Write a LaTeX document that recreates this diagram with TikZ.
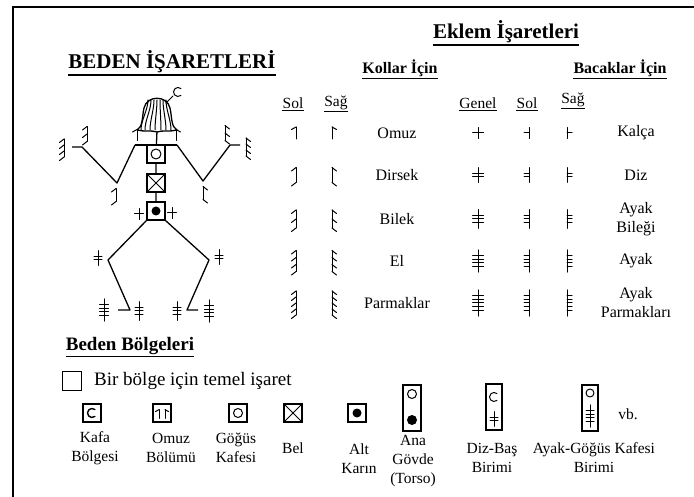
\documentclass[tikz,border=0pt]{standalone}
\usepackage{fontspec}
\setmainfont{Liberation Serif}
\usepackage{tikz}

\tikzset{
  sign/.style={line width=1pt, line cap=round, line join=round},
  limb/.style={line width=1.3pt, line join=round},
  region/.style={draw, line width=1.1pt, minimum size=18pt, inner sep=0pt},
  ul/.style={inner xsep=0pt, inner ysep=1.5pt,
    append after command={(\tikzlastnode.south west) edge[line width=#1] (\tikzlastnode.south east)}},
  ul/.default=0.9pt,
  lbl/.style={font=\fontsize{15.5}{19}\selectfont, align=center, inner sep=0pt}
}

% arm sign: ticks on one side of a stroke (#3=-1 left, 1 right), #4 ticks, #5 height
\newcommand\armsign[5][]{%
  \begin{scope}[shift={#2},#1]
    \draw[sign] (0,-#5/2) -- (0,#5/2);
    \ifnum#4=1
      \draw[sign] (0,-#5/2) -- (#3*4.5,-#5/2+2.5);
    \else
      \foreach \k in {1,...,#4}
        \draw[sign] (0,{-#5/2+(\k-1)*#5/(#4-1)}) -- (#3*4.5,{-#5/2+(\k-1)*#5/(#4-1)+3.5});
    \fi
  \end{scope}}
% leg sign: bars from #3 to #4 across a stroke, #5 bars
\newcommand\legsign[5][]{%
  \begin{scope}[shift={#2},#1]
    \draw[sign] (0,{-(#5-1)*1.9-5.5}) -- (0,{(#5-1)*1.9+5.5});
    \foreach \k in {1,...,#5}
      \draw[sign] (#3,{-(#5-1)*1.9+(\k-1)*3.8}) -- (#4,{-(#5-1)*1.9+(\k-1)*3.8});
  \end{scope}}
% head sign
\newcommand\Csign[3][]{%
  \begin{scope}[shift={#2}]
    \draw[sign,#1] (50:#3) arc (50:310:#3);
  \end{scope}}

\begin{document}
\begin{tikzpicture}[x=1pt,y=-1pt]
\useasboundingbox (0,0) rectangle (694,497);
\draw[line width=2.6pt] (13,497) -- (13,7) -- (694,7);

\node[ul=1.5pt, font=\bfseries\fontsize{21}{24}\selectfont] (beden) at (172,62) {BEDEN İŞARETLERİ};
\node[ul=1.5pt, font=\bfseries\fontsize{21}{24}\selectfont] (eklem) at (506,32) {Eklem İşaretleri};
\node[ul=1.2pt, font=\bfseries\fontsize{16}{19}\selectfont] (kollar) at (400,68) {Kollar İçin};
\node[ul=1.2pt, font=\bfseries\fontsize{16}{19}\selectfont] (bacak) at (620,68) {Bacaklar İçin};

% column heads
\node[lbl, ul] (hsol) at (293,103) {Sol};
\node[lbl, ul] (hsag) at (336,103) {Sağ};
\node[lbl, ul] (hgenel) at (478,103) {Genel};
\node[lbl, ul] (hlsol) at (527,103) {Sol};
\node[lbl, ul] (hlsag) at (573,100) {Sağ};

% joint table
\foreach \yy/\nn/\hh/\txt/\leg in {133/1/12/Omuz/Kalça, 175/2/15/Dirsek/Diz,
    219/3/18/Bilek/{Ayak\\Bileği}, 261/4/21/El/Ayak, 303/5/24/Parmaklar/{Ayak\\Parmakları}}{
  \armsign{(296,\yy)}{-1}{\nn}{\hh}
  \armsign{(332,\yy)}{1}{\nn}{\hh}
  \node[lbl, font=\fontsize{16}{19}\selectfont] (arm\nn) at (397,\yy) {\txt};
  \legsign{(478,\yy)}{-5.5}{5.5}{\nn}
  \legsign{(529,\yy)}{-5}{0}{\nn}
  \legsign{(567,\yy)}{0}{5}{\nn}
  \node[lbl, font=\fontsize{16}{19}\selectfont] (leg\nn) at (636,\yy) {\leg};
}

% figure
\coordinate (neck) at (157,131);
\node[region] (chest) at (156,154) {};
\node[region] (waist) at (156,183) {};
\node[region] (pelvis) at (156,211) {};
\draw[sign] (chest) circle (5);
\draw[sign] (waist.north west) -- (waist.south east) (waist.north east) -- (waist.south west);
\fill (pelvis) circle (4.5);
\draw[limb] (neck) -- (chest) (chest) -- (waist) (waist) -- (pelvis);

\coordinate (lsh) at (135,145); \coordinate (lel) at (117,183);
\coordinate (lwr) at (82,147);  \coordinate (lhd) at (72,147);
\coordinate (rsh) at (177,145); \coordinate (rel) at (203,181);
\coordinate (rwr) at (230,145); \coordinate (rhd) at (240,145);
\coordinate (lkn) at (108,260); \coordinate (lft) at (130,310); \coordinate (lto) at (118,310);
\coordinate (rkn) at (209,260); \coordinate (rft) at (187,310); \coordinate (rto) at (198,310);
\draw[limb] (lsh) -- (rsh);
\draw[limb] (lsh) -- (lel) -- (lwr) -- (lhd);
\draw[limb] (rsh) -- (rel) -- (rwr) -- (rhd);
\draw[limb] (pelvis.south west) -- (lkn) -- (lft) -- (lto);
\draw[limb] (pelvis.south east) -- (rkn) -- (rft) -- (rto);

% head
\draw[limb, fill=white] (137,130) .. controls (143,127) and (142,117) .. (144,108)
  .. controls (147,95) and (167,95) .. (170,108) .. controls (172,117) and (171,127) .. (177,130)
  .. controls (170,132) and (163,130) .. (157,132) .. controls (151,130) and (144,132) .. (137,130);
\foreach \sx/\bx in {148/141, 151/145, 154/150, 157/155, 160/161, 163/166, 166/171}
  \draw[sign] (\sx,100) .. controls (\sx,110) and (\bx,120) .. (\bx,130);
\draw[sign] (166,103) -- (173,96);
\Csign{(178,92)}{4.5}

\armsign{(137,135)}{-1}{1}{11}
\armsign{(176,135)}{1}{1}{11}
\armsign{(116,195)}{-1}{2}{13}
\armsign{(203,193)}{1}{2}{13}
\armsign{(87,134)}{-1}{3}{15}
\armsign{(225,133)}{1}{3}{15}
\armsign{(64,148)}{-1}{4}{18}
\armsign{(246,147)}{1}{4}{18}
\legsign{(139,214)}{-4.5}{4.5}{1}
\legsign{(172,213)}{-4.5}{4.5}{1}
\legsign{(98,258)}{-4}{4}{2}
\legsign{(219,257)}{-4}{4}{2}
\legsign{(139,311)}{-4}{4}{3}
\legsign{(177,311)}{-4}{4}{3}
\legsign{(104,310)}{-4.5}{4.5}{4}
\legsign{(209,311)}{-4.5}{4.5}{4}

% body regions
\node[ul=1.3pt, font=\bfseries\fontsize{19}{22}\selectfont] (bolge) at (130,346) {Beden Bölgeleri};
\node[region, minimum size=19pt] (basic) at (72,381) {};
\node[anchor=west, inner sep=0pt, font=\fontsize{19}{22}\selectfont] (basictxt) at (94,381) {Bir bölge için temel işaret};

\node[region] (kafa) at (92,413) {};
\Csign[line width=1.4pt]{(kafa)}{4.5}
\node[region] (omuz) at (162,413) {};
\armsign[scale=0.8]{(159,414)}{-1}{1}{11}
\armsign[scale=0.8]{(165,414)}{1}{1}{11}
\node[region] (gogus) at (238,413) {};
\draw[sign] (gogus) circle (4.5);
\node[region] (bel) at (293,413) {};
\draw[sign] (bel.north west) -- (bel.south east) (bel.north east) -- (bel.south west);
\node[region] (karin) at (357,413) {};
\fill (karin) circle (4.5);
\node[region, minimum height=46pt] (govde) at (412,408) {};
\draw[sign] ([yshift=14pt]govde) circle (4.5);
\fill ([yshift=-12pt]govde) circle (5);
\node[region, minimum width=16pt, minimum height=46pt] (dizbas) at (494,407) {};
\Csign{([yshift=10pt]dizbas)}{4.5}
\legsign{([yshift=-12pt]dizbas)}{-4}{4}{2}
\node[region, minimum width=16pt, minimum height=46pt] (ayak) at (590,408) {};
\draw[sign] ([yshift=15pt]ayak) circle (4);
\legsign{([yshift=-8pt]ayak)}{-4}{4}{4}

\node[lbl] (kafaL) at (95,448) {Kafa\\Bölgesi};
\node[lbl] (omuzL) at (171,448) {Omuz\\Bölümü};
\node[lbl] (gogusL) at (236,448) {Göğüs\\Kafesi};
\node[lbl] (belL) at (293,448) {Bel};
\node[lbl] (karinL) at (359,459) {Alt\\Karın};
\node[lbl] (govdeL) at (413,461) {Ana\\Gövde\\(Torso)};
\node[lbl] (dizbasL) at (492,458) {Diz-Baş\\Birimi};
\node[lbl] (ayakL) at (594,458) {Ayak-Göğüs Kafesi\\Birimi};
\node[lbl] (vb) at (628,414) {vb.};
\end{tikzpicture}
\end{document}
